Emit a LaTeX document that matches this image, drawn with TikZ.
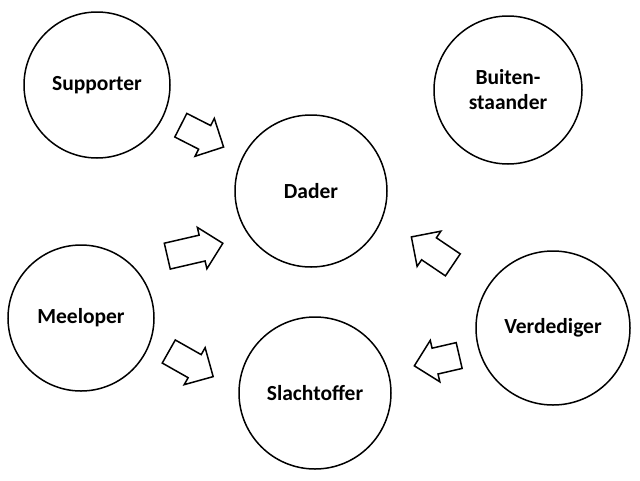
\documentclass[tikz,border=0pt]{standalone}
\usepackage{fontspec}
\setmainfont{Carlito}
\usetikzlibrary{shapes.arrows}

\tikzset{
  rol/.style={circle, draw, line width=1.5pt, inner sep=0pt,
    font=\fontsize{21.5}{25}\selectfont\bfseries, align=center},
  pijl/.style={single arrow, draw, line width=1.5pt, inner xsep=0pt,
    inner ysep=12.5pt, single arrow head extend=8pt}
}

\begin{document}
\begin{tikzpicture}[x=1pt, y=-1pt, line join=miter]
  \useasboundingbox (0,0) rectangle (640,480);
  % The roles round the bullying: the doer in the middle, the victim below it.
  \node[rol, minimum size=146pt] (supporter) at (97,85)  {Supporter};
  \node[rol, minimum size=148pt] (buiten)    at (508,90) {Buiten-\\staander};
  \node[rol, minimum size=152pt] (dader)     at (311,191) {Dader};
  \node[rol, minimum size=146pt] (meeloper)  at (81,318) {Meeloper};
  \node[rol, minimum size=154pt] (verdediger) at (553,328) {Verdediger};
  \node[rol, minimum size=152pt] (slachtoffer) at (315,393) {Slachtoffer};
  % Block arrows, set loose between the circles.
  \node[pijl, minimum height=48pt, rotate=-27]  (pijlA) at (196.3,133.1) {};
  \node[pijl, minimum height=57pt, rotate=13]   (pijlB) at (188.6,251.2) {};
  \node[pijl, minimum height=51pt, rotate=-29.5] (pijlC) at (185.2,360.8) {};
  \node[pijl, minimum height=50pt, rotate=146]  (pijlD) at (437.6,254.6) {};
  \node[pijl, minimum height=46pt, rotate=193]  (pijlE) at (443.2,359.2) {};
\end{tikzpicture}
\end{document}
